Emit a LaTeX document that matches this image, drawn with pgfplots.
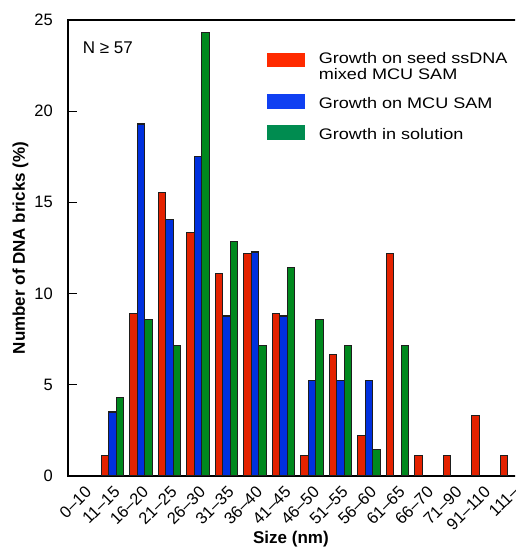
\documentclass[border=0pt]{standalone}
\usepackage{pgfplots}
\pgfplotsset{compat=1.18}
\usepackage{pgfplotstable}
\usepackage{fontspec}
\setmainfont{Liberation Sans}
\newfontfamily\legfont{Liberation Sans}[FakeStretch=1.18]
\definecolor{cred}{HTML}{E42200}
\definecolor{cblue}{HTML}{0030DE}
\definecolor{cgreen}{HTML}{00891E}
\definecolor{lred}{HTML}{FF2A00}
\definecolor{lblue}{HTML}{1040F2}
\definecolor{lgreen}{HTML}{008C50}
\definecolor{edge}{HTML}{1E1E1E}

% Growth on seed ssDNA mixed MCU SAM
\pgfplotstableread{
x y
1 1.11
2 8.89
3 15.56
4 13.33
5 11.11
6 12.22
7 8.89
8 1.11
9 6.67
10 2.22
11 12.22
12 1.11
13 1.11
14 3.33
15 1.11
}\redtab
% Growth on MCU SAM
\pgfplotstableread{
x y
1 3.51
2 19.30
3 14.04
4 17.54
5 8.77
6 12.28
7 8.77
8 5.26
9 5.26
10 5.26
}\bluetab
% Growth in solution
\pgfplotstableread{
x y
1 4.29
2 8.57
3 7.14
4 24.29
5 12.86
6 7.14
7 11.43
8 8.57
9 7.14
10 1.43
11 7.14
}\greentab

\begin{document}
\begin{tikzpicture}
\useasboundingbox (-68pt,-72pt) rectangle (447pt,476pt);
\clip (-68pt,-72pt) rectangle (447pt,476pt);
\begin{axis}[
  at={(0pt,0pt)}, anchor=south west,
  scale only axis, width=460.6pt, height=456pt,
  xmin=-0.56, xmax=15.6, ymin=0, ymax=25,
  xtick={0,...,15},
  xticklabels={0–10,11–15,16–20,21–25,26–30,31–35,36–40,41–45,46–50,51–55,56–60,61–65,66–70,71–90,91–110,111–},
  ytick={0,5,10,15,20,25},
  tick align=inside, ytick pos=left, major tick length=9pt,
  x tick style={draw=none},
  y tick style={line width=1.2pt, black},
  axis line style={line width=2pt},
  /pgf/number format/assume math mode=true,
  tick label style={font=\fontsize{16.5}{19}\selectfont},
  yticklabel style={anchor=east, inner sep=0pt, xshift=-15pt},
  xticklabel style={anchor=east, inner sep=0pt, xshift=4.5pt, yshift=-13pt, rotate=45},
  xlabel={\textbf{Size (nm)}},
  xlabel style={at={(axis description cs:0.484,-0.1491)}, anchor=base, font=\fontsize{17}{20}\selectfont},
  ylabel={\textbf{Number of DNA bricks (\%)}},
  ylabel style={at={(axis description cs:-0.0934,0.5)}, anchor=base, font=\fontsize{17}{20}\selectfont},
  legend style={draw=none, fill=none, at={(rel axis cs:0.4314,0.9292)}, anchor=north west,
    inner sep=0pt, column sep=15pt, row sep=0pt,
    cells={anchor=base west},
    nodes={inner sep=0pt, text depth=, text height=, font=\legfont\fontsize{15.3}{16}\selectfont}},
]
\addplot[ybar, bar width=7.6pt, bar shift=-7.6pt, fill=cred, draw=edge, line width=1.1pt, forget plot] table[x=x,y=y] {\redtab};
\addplot[ybar, bar width=7.6pt, bar shift=0pt, fill=cblue, draw=edge, line width=1.1pt, forget plot] table[x=x,y=y] {\bluetab};
\addplot[ybar, bar width=7.6pt, bar shift=7.6pt, fill=cgreen, draw=edge, line width=1.1pt, forget plot] table[x=x,y=y] {\greentab};

\addlegendimage{legend image code/.code={\fill[lred] (0pt,-2.7pt) rectangle (36.6pt,10.6pt);}}
\addlegendentry{\rule[-4.7pt]{0pt}{15.7pt}Growth on seed ssDNA}
\addlegendimage{empty legend}
\addlegendentry{\rule[-14.3pt]{0pt}{25.3pt}mixed MCU SAM}
\addlegendimage{legend image code/.code={\fill[lblue] (0pt,0.4pt) rectangle (36.6pt,14.4pt);}}
\addlegendentry{\rule[-16.3pt]{0pt}{27.3pt}Growth on MCU SAM}
\addlegendimage{legend image code/.code={\fill[lgreen] (0pt,0.5pt) rectangle (36.6pt,14.5pt);}}
\addlegendentry{\rule{0pt}{11pt}Growth in solution}

\node[anchor=base west, font=\fontsize{17}{20}\selectfont, inner sep=0pt] at (rel axis cs:0.0319,0.927) {N ≥ 57};
\end{axis}
\end{tikzpicture}
\end{document}
